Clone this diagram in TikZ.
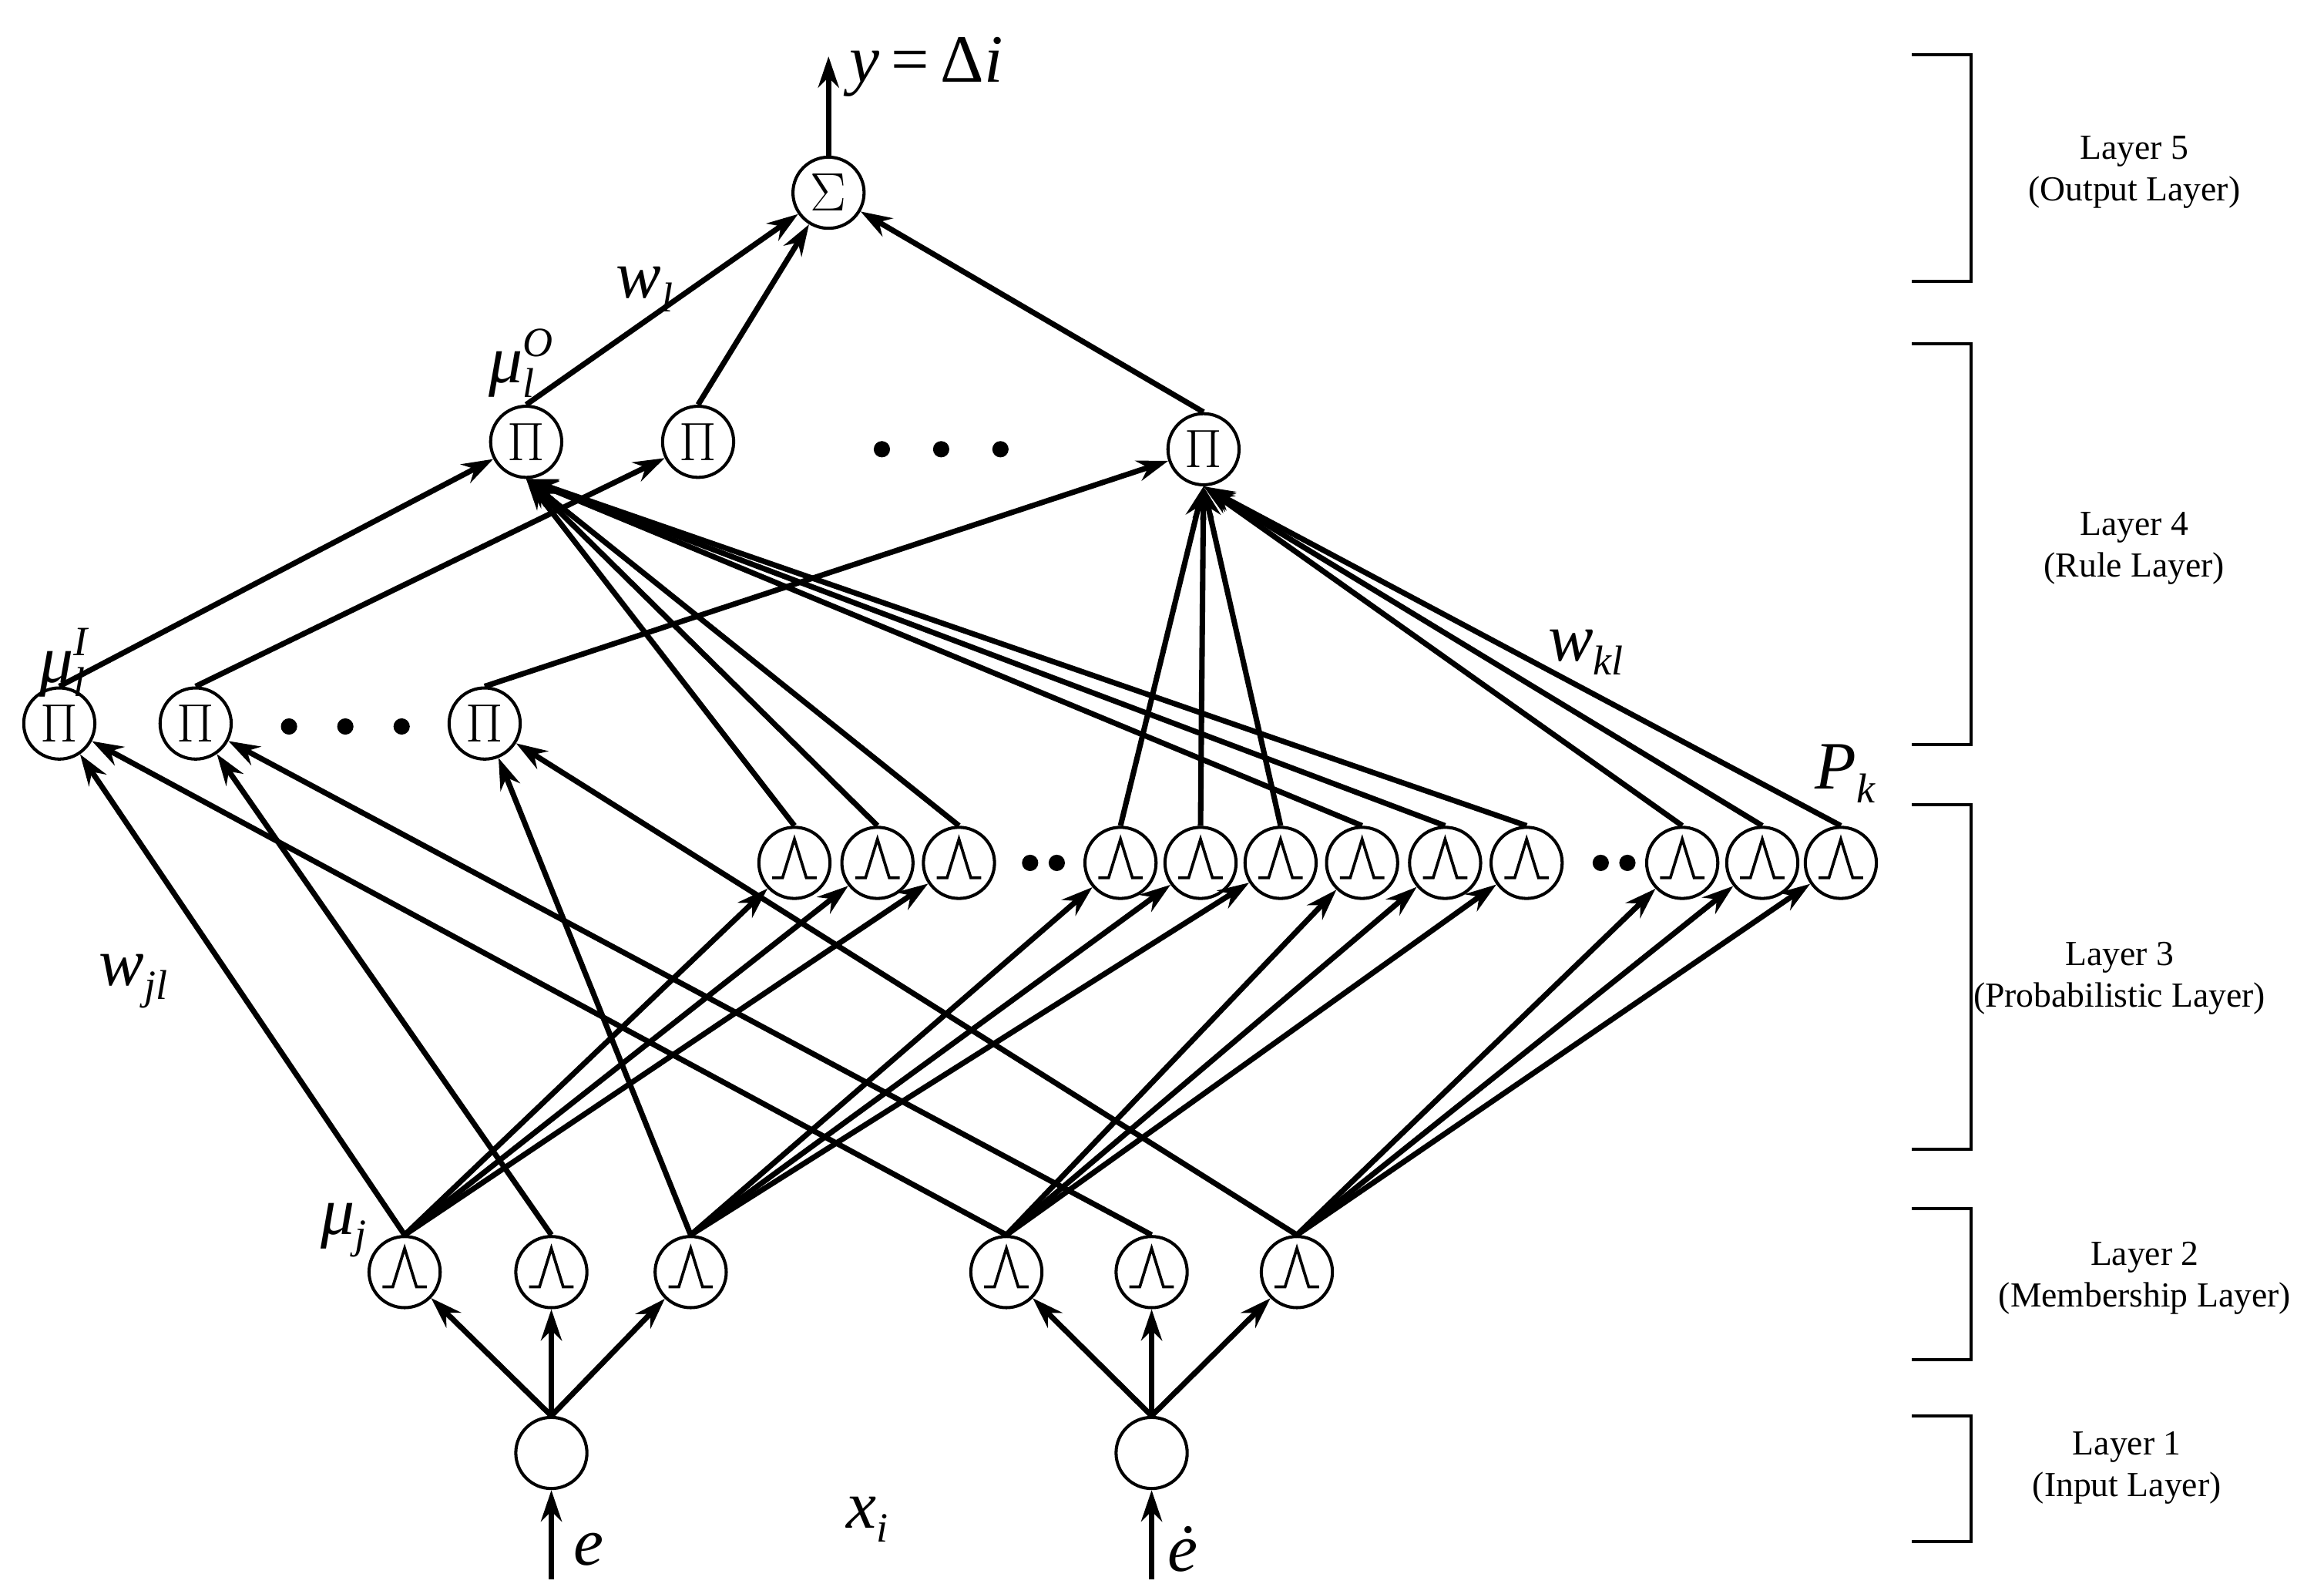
\documentclass[tikz,border=0pt]{standalone}
\usepackage{fontspec}
\setmainfont{Liberation Serif}
\usetikzlibrary{arrows.meta}
\newcommand\mysb[1]{\raisebox{-0.45ex}{\fontsize{16}{16}\selectfont #1}}
\newcommand\mysbp[2]{\rlap{\raisebox{0.85ex}{\fontsize{16}{16}\selectfont #2}}\raisebox{-0.45ex}{\fontsize{16}{16}\selectfont #1}}
\begin{document}
\begin{tikzpicture}[x=0.02cm,y=-0.02cm,
  nd/.style={circle,draw,line width=1.2pt,inner sep=0pt,minimum size=0.96cm},
  lam/.style={nd,path picture={\draw[line width=1.1pt]
     ([shift={(-0.3cm,-0.2cm)}]path picture bounding box.center) -- ++(0.14cm,0) -- ++(0.16cm,0.52cm) -- ++(0.16cm,-0.52cm) -- ++(0.14cm,0);}},
  pin/.style={nd,font=\fontsize{22}{22}\selectfont},
  ed/.style={line width=2.1pt,-{Stealth[length=12pt,width=8pt]}},
  lab/.style={font=\fontsize{26}{26}\selectfont\itshape,inner sep=1pt},
  lay/.style={font=\fontsize{13.5}{16}\selectfont,align=center},
  dot/.style={circle,fill,inner sep=0pt,minimum size=0.22cm}]
\useasboundingbox (0,0) rectangle (1568,1075);
% input
\node[nd] (in1) at (372,980) {};
\node[nd] (in2) at (777,980) {};
\coordinate (e1) at (372,1065);
\coordinate (e2) at (777,1065);
\draw[ed] (e1) -- (in1);
\draw[ed] (e2) -- (in2);
% layer 2
\foreach \i/\x in {1/273,2/372,3/466,4/679,5/777,6/875}
  \node[lam] (m\i) at (\x,858) {};
% layer 3
\foreach \i/\x in {1/536,2/592,3/647,4/756,5/810,6/864,7/919,8/975,9/1030,10/1135,11/1189,12/1242}
  \node[lam] (p\i) at (\x,582) {};
\node[dot] (d1) at (695,582) {}; \node[dot] (d2) at (713,582) {};
\node[dot] (d3) at (1080,582) {}; \node[dot] (d4) at (1098,582) {};
% lower Pi
\node[pin] (r1) at (40,488) {$\Pi$};
\node[pin] (r2) at (132,488) {$\Pi$};
\node[pin] (r3) at (327,488) {$\Pi$};
\node[dot] (d5) at (195,490) {}; \node[dot] (d6) at (233,490) {}; \node[dot] (d7) at (271,490) {};
% upper Pi
\node[pin] (q1) at (355,298) {$\Pi$};
\node[pin] (q2) at (471,298) {$\Pi$};
\node[pin] (q3) at (812,303) {$\Pi$};
\node[dot] (d8) at (595,303) {}; \node[dot] (d9) at (635,303) {}; \node[dot] (d10) at (675,303) {};
% sum
\node[pin] (s) at (559,130) {$\Sigma$};
\coordinate (out) at (559,38);
\draw[ed] (s) -- (out);
% input -> layer 2
\foreach \i in {1,2,3} \draw[ed] (in1.north) -- (m\i);
\foreach \i in {4,5,6} \draw[ed] (in2.north) -- (m\i);
% layer 2 -> layer 3
\foreach \j in {1,2,3} \draw[ed] (m1.north) -- (p\j);
\foreach \j in {4,5,6} \draw[ed] (m3.north) -- (p\j);
\foreach \j in {7,8,9} \draw[ed] (m4.north) -- (p\j);
\foreach \j in {10,11,12} \draw[ed] (m6.north) -- (p\j);
% layer 2 -> lower Pi
\draw[ed] (m1.north) -- (r1);
\draw[ed] (m4.north) -- (r1);
\draw[ed] (m2.north) -- (r2);
\draw[ed] (m5.north) -- (r2);
\draw[ed] (m3.north) -- (r3);
\draw[ed] (m6.north) -- (r3);
% layer 3 -> upper Pi
\foreach \j in {1,2,3,7,8,9} \draw[ed] (p\j.north) -- (q1.south);
\foreach \j in {4,5,6,10,11,12} \draw[ed] (p\j.north) -- (q3.south);
% lower Pi -> upper Pi
\draw[ed] (r1.north) -- (q1);
\draw[ed] (r2.north) -- (q2);
\draw[ed] (r3.north) -- (q3);
% upper Pi -> sum
\draw[ed] (q1.north) -- (s);
\draw[ed] (q2.north) -- (s);
\draw[ed] (q3.north) -- (s);
% labels
\node[lab] (ly) at (625,45) {y\,\upshape=\,Δ\itshape i};
\node[lab] (lmo) at (345,245) {μ\mysbp{l}{O}};
\node[lab] (lwl) at (435,195) {w\mysb{l}};
\node[lab] (lmi) at (42,447) {μ\mysbp{l}{I}};
\node[lab] (lwj) at (90,662) {w\mysb{jl}};
\node[lab] (lmj) at (232,830) {μ\mysb{j}};
\node[lab] (lwk) at (1070,440) {w\mysb{kl}};
\node[lab] (lpk) at (1245,522) {P\mysb{k}};
\node[lab] (lxi) at (585,1025) {x\mysb{i}};
\node[lab] (le1) at (397,1045) {e};
\node[lab] (le2) at (798,1045) {ė};
% brackets
\foreach \a/\b in {37/190,232/502,543/775,815/917,955/1040}
  \draw[line width=1.2pt] (1290,\a) -- (1330,\a) -- (1330,\b) -- (1290,\b);
\node[lay] (L5) at (1440,116) {Layer 5\\(Output Layer)};
\node[lay] (L4) at (1440,370) {Layer 4\\(Rule Layer)};
\node[lay] (L3) at (1430,660) {Layer 3\\(Probabilistic Layer)};
\node[lay] (L2) at (1447,862) {Layer 2\\(Membership Layer)};
\node[lay] (L1) at (1435,990) {Layer 1\\(Input Layer)};
\end{tikzpicture}
\end{document}
